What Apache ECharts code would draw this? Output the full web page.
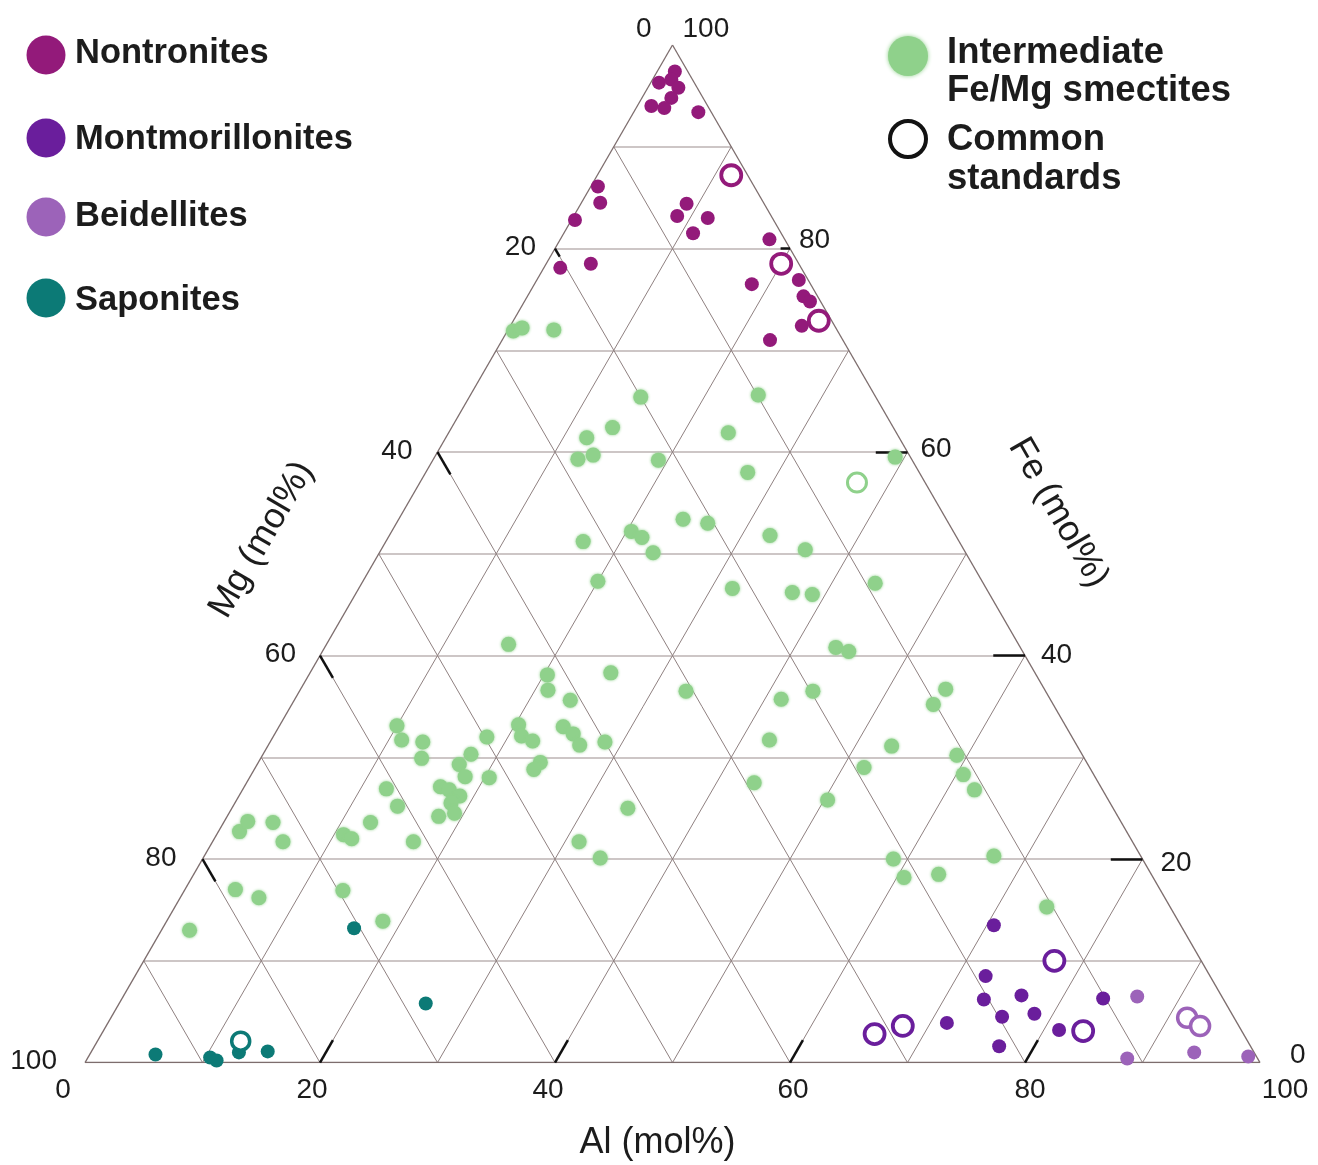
<!DOCTYPE html>
<html>
<head>
<meta charset="utf-8">
<script src="https://cdn.jsdelivr.net/npm/echarts@6/dist/echarts.min.js"></script>
<style>
  html, body { margin: 0; padding: 0; background: #ffffff; }
  #chart { width: 1318px; height: 1165px; }
</style>
</head>
<body>
<div id="chart"></div>
<script>
// Smectite compositions, each row is [Al, Fe, Mg] in mol%
const nontronites = [
  [1.5, 97.4, 1.1], [0.7, 96.3, 3.0], [1.6, 96.6, 1.8], [2.6, 95.8, 1.6], [2.5, 94.8, 2.7],
  [1.2, 94.0, 4.8], [2.4, 93.8, 3.8], [5.5, 93.4, 1.1], [0.6, 86.1, 13.3], [1.6, 84.5, 13.9],
  [0.3, 82.8, 16.9], [9.0, 84.4, 6.6], [8.8, 83.2, 8.0], [11.5, 83.0, 5.5], [11.0, 81.5, 7.5],
  [17.8, 80.9, 1.3], [1.4, 78.1, 20.5], [3.8, 78.5, 17.7], [18.5, 76.5, 5.0], [22.3, 76.9, 0.8],
  [23.5, 75.3, 1.2], [24.3, 74.8, 0.9], [24.8, 72.4, 2.8], [22.8, 71.0, 6.2]
];
const nontroniteStandards = [[11.4, 87.2, 1.4], [20.0, 78.5, 1.5], [26.0, 72.9, 1.1]];

const montmorillonites = [
  [70.6, 13.5, 15.9], [72.4, 8.5, 19.1], [73.4, 6.2, 20.4], [76.4, 6.6, 17.0], [75.8, 4.5, 19.7],
  [78.4, 4.8, 16.8], [71.4, 3.9, 24.7], [77.0, 1.6, 21.4], [81.3, 3.2, 15.5], [83.5, 6.3, 10.2]
];
const montmorilloniteStandards = [[77.5, 10.0, 12.5], [65.8, 2.8, 31.4], [67.8, 3.6, 28.6], [83.4, 3.1, 13.5]];

const beidellites = [[86.3, 6.5, 7.2], [93.9, 1.0, 5.1], [88.5, 0.4, 11.1], [98.7, 0.6, 0.7]];
const beidelliteStandards = [[91.6, 4.4, 4.0], [93.1, 3.6, 3.3]];

const saponites = [
  [16.3, 13.2, 70.5], [26.1, 5.8, 68.1], [5.6, 0.8, 93.6], [10.4, 0.5, 89.1],
  [11.1, 0.2, 88.7], [12.6, 1.0, 86.4], [15.0, 1.1, 83.9]
];
const saponiteStandards = [[12.2, 2.1, 85.7]];

const intermediates = [
  [0.5, 71.9, 27.6], [1.1, 72.2, 26.7], [3.9, 72.0, 24.1], [14.6, 65.4, 20.0], [13.7, 62.4, 23.9],
  [12.0, 61.4, 26.6], [12.3, 59.3, 28.4], [13.4, 59.7, 26.9], [19.2, 59.2, 21.6], [23.8, 61.9, 14.3],
  [24.2, 53.4, 22.4], [26.5, 53.0, 20.5], [20.4, 52.2, 27.4], [21.6, 51.6, 26.8], [16.8, 51.2, 32.0],
  [23.3, 50.1, 26.6], [20.0, 47.3, 32.7], [24.5, 65.6, 9.9], [27.4, 58.0, 14.6], [39.2, 59.5, 1.3],
  [32.4, 51.8, 15.8], [36.1, 50.4, 13.5], [31.8, 46.6, 21.6], [37.1, 46.2, 16.7], [38.9, 46.0, 15.1],
  [43.7, 47.1, 9.2], [43.5, 40.8, 15.7], [44.8, 40.4, 14.8], [43.7, 36.5, 19.8], [41.4, 35.7, 22.9],
  [54.9, 36.7, 8.4], [15.5, 41.1, 43.4], [20.3, 38.1, 41.6], [21.1, 36.6, 42.3], [25.6, 38.3, 36.1],
  [32.9, 36.5, 30.6], [23.5, 35.6, 40.9], [20.3, 33.2, 46.5], [18.2, 32.0, 49.8], [21.1, 32.1, 46.8],
  [22.3, 31.6, 46.1], [24.2, 33.0, 42.8], [25.4, 32.3, 42.3], [26.5, 31.2, 42.3], [28.5, 31.5, 40.0],
  [42.4, 31.7, 25.9], [24.0, 29.5, 46.5], [23.8, 28.8, 47.4], [20.4, 28.0, 51.6], [43.2, 27.5, 29.3],
  [50.3, 25.8, 23.9], [33.7, 25.0, 41.3], [31.2, 21.7, 47.1], [33.8, 20.1, 46.1], [10.0, 33.1, 56.9],
  [11.1, 31.7, 57.2], [13.0, 31.5, 55.5], [13.7, 29.9, 56.4], [17.7, 30.3, 52.0], [17.2, 29.3, 53.5],
  [18.3, 28.1, 53.6], [16.7, 27.1, 56.2], [17.6, 26.8, 55.6], [18.8, 26.2, 55.0], [18.4, 25.5, 56.1],
  [19.2, 24.5, 56.3], [18.0, 24.2, 57.8], [12.2, 26.9, 60.9], [14.0, 25.2, 60.8], [12.5, 23.6, 63.9],
  [17.1, 21.7, 61.2], [10.8, 22.4, 66.8], [11.7, 22.0, 66.3], [1.8, 22.7, 75.5], [2.0, 23.7, 74.3],
  [4.2, 23.6, 72.2], [6.0, 21.7, 72.3], [4.3, 17.0, 78.7], [6.7, 16.2, 77.1], [13.5, 16.9, 69.6],
  [18.4, 13.9, 67.7], [2.4, 13.0, 84.6], [54.6, 35.2, 10.2], [53.1, 31.1, 15.8], [59.1, 30.2, 10.7],
  [51.8, 29.0, 19.2], [60.6, 28.3, 11.1], [62.3, 26.8, 10.9], [58.8, 20.0, 21.2], [60.6, 18.2, 21.2],
  [63.4, 18.5, 18.1], [67.2, 20.3, 12.5], [74.2, 15.3, 10.5]
];
const intermediateStandards = [[37.2, 57.0, 5.8]];

// Axis divisions (mol%)
const gridSteps = [10, 20, 30, 40, 50, 60, 70, 80, 90];
const tickSteps = [20, 40, 60, 80];
const labelSteps = [0, 20, 40, 60, 80, 100];

// Colours
const C = {
  nontronite: '#931a7a',
  montmorillonite: '#6a1e9c',
  beidellite: '#9c63b9',
  saponite: '#0c7a76',
  intermediate: '#8fd18b',
  standard: '#121212',
  text: '#1c1c1c'
};
const FONT = '"Liberation Sans", Arial, Helvetica, sans-serif';

// Ternary [Al, Fe, Mg] -> cartesian (Al at right, Fe at top, Mg at left)
const H = Math.sqrt(3) / 2;
const toXY = c => [c[0] + c[1] / 2, c[1] * H];
const seg = (a, b) => ({ coords: [toXY(a), toXY(b)] });

// Grid lines
const feLines = gridSteps.map(f => seg([100 - f, f, 0], [0, f, 100 - f]));
const slantLines = [].concat(
  gridSteps.map(a => seg([a, 0, 100 - a], [a, 100 - a, 0])),
  gridSteps.map(m => seg([100 - m, 0, m], [0, 100 - m, m]))
);
const edges = [
  seg([0, 0, 100], [100, 0, 0]),
  seg([100, 0, 0], [0, 100, 0]),
  seg([0, 100, 0], [0, 0, 100])
];

// Short axis ticks running along the grid lines
const tickLen = v => (v === 20 ? 0.8 : 2.2);
const ticks = [].concat(
  tickSteps.map(a => seg([a, 0, 100 - a], [a, 2.2, 100 - a - 2.2])),
  tickSteps.map(m => seg([0, 100 - m, m], [tickLen(m), 100 - m - tickLen(m), m])),
  tickSteps.map(f => {
    const L = f === 80 ? 0.8 : 2.7;
    return seg([100 - f, f, 0], [100 - f - L, f, L]);
  })
);

const linesSeries = (data, color, width, z) => ({
  type: 'lines',
  coordinateSystem: 'cartesian2d',
  silent: true,
  z: z,
  lineStyle: { color: color, width: width, opacity: 1 },
  data: data
});

const filled = (name, rows, color, size, extra) => Object.assign({
  name: name,
  type: 'scatter',
  z: 5,
  symbol: 'circle',
  symbolSize: size,
  itemStyle: { color: color, opacity: 1 },
  data: rows.map(toXY)
}, extra || {});

const open = (name, rows, color, size, width) => ({
  name: name,
  type: 'scatter',
  z: 6,
  symbol: 'circle',
  symbolSize: size,
  itemStyle: { color: '#ffffff', borderColor: color, borderWidth: width, opacity: 1 },
  data: rows.map(toXY)
});

const option = {
  animation: false,
  backgroundColor: '#ffffff',
  grid: { left: 85, top: 45, width: 1175, height: 1175 * H },
  xAxis: { type: 'value', min: 0, max: 100, show: false },
  yAxis: { type: 'value', min: 0, max: 100 * H, show: false },
  series: [
    linesSeries(feLines, '#bdb3b3', 1.6, 1),
    linesSeries(slantLines, '#8f8080', 1, 1),
    linesSeries(edges, '#7d6d6d', 1.3, 2),
    linesSeries(ticks, '#111111', 2.5, 3),
    filled('Intermediate Fe/Mg smectites', intermediates, C.intermediate, 15,
      { itemStyle: { color: C.intermediate, opacity: 1, shadowBlur: 3, shadowColor: C.intermediate } }),
    filled('Nontronites', nontronites, C.nontronite, 14),
    filled('Montmorillonites', montmorillonites, C.montmorillonite, 14),
    filled('Beidellites', beidellites, C.beidellite, 14),
    filled('Saponites', saponites, C.saponite, 14),
    open('Nontronite standards', nontroniteStandards, C.nontronite, 20, 3.8),
    open('Montmorillonite standards', montmorilloniteStandards, C.montmorillonite, 20, 3.8),
    open('Beidellite standards', beidelliteStandards, C.beidellite, 19, 3.5),
    open('Saponite standards', saponiteStandards, C.saponite, 18, 3.5),
    open('Intermediate standards', intermediateStandards, C.intermediate, 19, 3)
  ]
};

const chart = echarts.init(document.getElementById('chart'), null, { renderer: 'canvas' });
chart.setOption(option);

// Text placed at ternary positions through the grid's own scales
const px = c => chart.convertToPixel({ gridIndex: 0 }, toXY(c));
const txt = (c, text, dx, dy, align, size, weight, rotation) => {
  const p = px(c);
  return {
    type: 'text',
    x: p[0] + dx,
    y: p[1] + dy,
    rotation: rotation || 0,
    silent: true,
    style: {
      text: text,
      fill: C.text,
      font: (weight || 'normal') + ' ' + size + 'px ' + FONT,
      align: align,
      verticalAlign: 'middle'
    }
  };
};

const alDx = [-22, -8, -7, 3, 5, 25];
const mgDx = { 20: -19, 40: -25, 60: -24, 80: -26, 100: -28 };
const feOff = { 0: [30, -8], 20: [18, 3], 40: [16, -1], 60: [13, -4], 80: [9, -9] };

const graphics = [];
labelSteps.forEach((a, i) => graphics.push(txt([a, 0, 100 - a], String(a), alDx[i], 28, 'center', 28)));
labelSteps.filter(m => m > 0).forEach(m => graphics.push(txt([0, 100 - m, m], String(m), mgDx[m], -1, 'right', 28)));
graphics.push(txt([0, 100, 0], '0', -21, -16, 'right', 28));
labelSteps.filter(f => f < 100).forEach(f => graphics.push(txt([100 - f, f, 0], String(f), feOff[f][0], feOff[f][1] + 1, 'left', 28)));
graphics.push(txt([0, 100, 0], '100', 10, -16, 'left', 28));

// Axis titles, centred beside the middle of each edge
graphics.push(txt([50, 0, 50], 'Al (mol%)', -15, 80, 'center', 36));
graphics.push(txt([0, 50, 50], 'Mg (mol%)', -117, -14, 'center', 36, 'normal', Math.PI / 3));
graphics.push(txt([50, 50, 0], 'Fe (mol%)', 92, -41, 'center', 36, 'normal', -Math.PI / 3));

// Key
const keyText = (x, y, text, size) => ({
  type: 'text', x: x, y: y, silent: true,
  style: { text: text, fill: C.text, font: 'bold ' + size + 'px ' + FONT, align: 'left', verticalAlign: 'middle' }
});
const keyDot = (x, y, r, fill, stroke, lw) => ({
  type: 'circle', silent: true,
  shape: { cx: x, cy: y, r: r },
  style: stroke ? { fill: '#ffffff', stroke: stroke, lineWidth: lw } : { fill: fill }
});
[
  ['Nontronites', C.nontronite, 55, 53],
  ['Montmorillonites', C.montmorillonite, 138, 139],
  ['Beidellites', C.beidellite, 217, 216],
  ['Saponites', C.saponite, 298, 300]
].forEach(k => {
  graphics.push(keyDot(46, k[2], 19.5, k[1]));
  graphics.push(keyText(75, k[3], k[0], 34.5));
});
graphics.push(Object.assign(keyDot(908, 56, 20, C.intermediate), {
  style: { fill: C.intermediate, shadowBlur: 4, shadowColor: C.intermediate }
}));
graphics.push(keyText(947, 53, 'Intermediate', 36.5));
graphics.push(keyText(947, 91, 'Fe/Mg smectites', 36.5));
graphics.push(keyDot(908, 139, 18, null, C.standard, 4));
graphics.push(keyText(947, 140, 'Common', 36.5));
graphics.push(keyText(947, 179, 'standards', 36.5));

chart.setOption({ graphic: { elements: graphics } });
</script>
</body>
</html>
